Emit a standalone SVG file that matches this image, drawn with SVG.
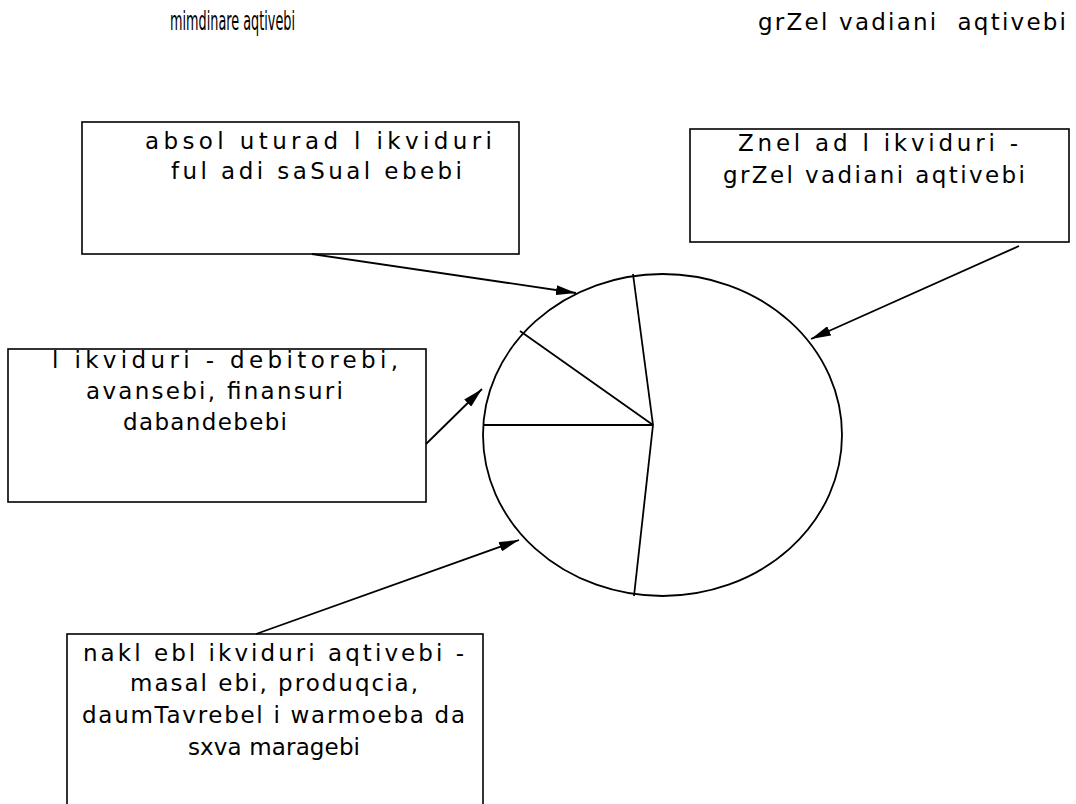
<svg xmlns="http://www.w3.org/2000/svg" width="1076" height="804" viewBox="0 0 1076 804">
<style>
.box{fill:#fff;stroke:#000;stroke-width:1.6}
.t{font-family:"DejaVu Sans","Liberation Sans",sans-serif;font-size:23px;fill:#000}
.ln{stroke:#000;stroke-width:1.8;fill:none}
</style>
<defs>
<marker id="ah" viewBox="0 0 20 10" refX="20" refY="5" markerWidth="20" markerHeight="10" markerUnits="userSpaceOnUse" orient="auto">
<path d="M0,0 L20,5 L0,10 Z" fill="#000"/>
</marker>
</defs>
<rect width="1076" height="804" fill="#fff"/>
<g id="titles">
<text class="t" x="170" y="30" textLength="125" lengthAdjust="spacingAndGlyphs" style="font-size:26px">mimdinare aqtivebi</text>
<text class="t" x="758" y="30" textLength="308" lengthAdjust="spacing" xml:space="preserve" style="font-size:23px">grZel vadiani  aqtivebi</text>
</g>
<g id="node-absolute">
<rect class="box" x="82" y="122" width="437" height="132"/>
<text class="t" x="145" y="149" textLength="347" lengthAdjust="spacing">absol uturad l ikviduri</text>
<text class="t" x="171" y="179" textLength="291" lengthAdjust="spacing">ful adi saSual ebebi</text>
</g>
<g id="node-weak">
<rect class="box" x="690" y="129" width="379" height="113"/>
<text class="t" x="738" y="151" textLength="280" lengthAdjust="spacing">Znel ad l ikviduri -</text>
<text class="t" x="723" y="183" textLength="302" lengthAdjust="spacing">grZel vadiani aqtivebi</text>
</g>
<g id="node-liquid">
<rect class="box" x="8" y="349" width="418" height="153"/>
<text class="t" x="52" y="368" textLength="346" lengthAdjust="spacing">l ikviduri - debitorebi,</text>
<text class="t" x="86" y="399" textLength="257" lengthAdjust="spacing">avansebi, finansuri</text>
<text class="t" x="123" y="430" textLength="164" lengthAdjust="spacing">dabandebebi</text>
</g>
<g id="node-slow">
<rect class="box" x="67" y="634" width="416" height="200"/>
<text class="t" x="83" y="661" textLength="381" lengthAdjust="spacing">nakl ebl ikviduri aqtivebi -</text>
<text class="t" x="130" y="691" textLength="288" lengthAdjust="spacing">masal ebi, produqcia,</text>
<text class="t" x="82" y="723" textLength="383" lengthAdjust="spacing">daumTavrebel i warmoeba da</text>
<text class="t" x="188" y="755" textLength="172" lengthAdjust="spacing">sxva maragebi</text>
</g>
<g id="node-pie">
<ellipse class="ln" cx="662.5" cy="435" rx="179.5" ry="161"/>
<line class="ln" x1="653" y1="425" x2="483.5" y2="425"/>
<line class="ln" x1="653" y1="425" x2="520" y2="331"/>
<line class="ln" x1="653" y1="425" x2="633" y2="274"/>
<line class="ln" x1="653" y1="425" x2="634" y2="596"/>
</g>
<g id="connectors">
<line class="ln" x1="312" y1="254" x2="576" y2="293" marker-end="url(#ah)"/>
<line class="ln" x1="1019" y1="246" x2="811" y2="339" marker-end="url(#ah)"/>
<line class="ln" x1="426" y1="444" x2="482" y2="389" marker-end="url(#ah)"/>
<line class="ln" x1="256" y1="634" x2="519" y2="540" marker-end="url(#ah)"/>
</g>
</svg>
